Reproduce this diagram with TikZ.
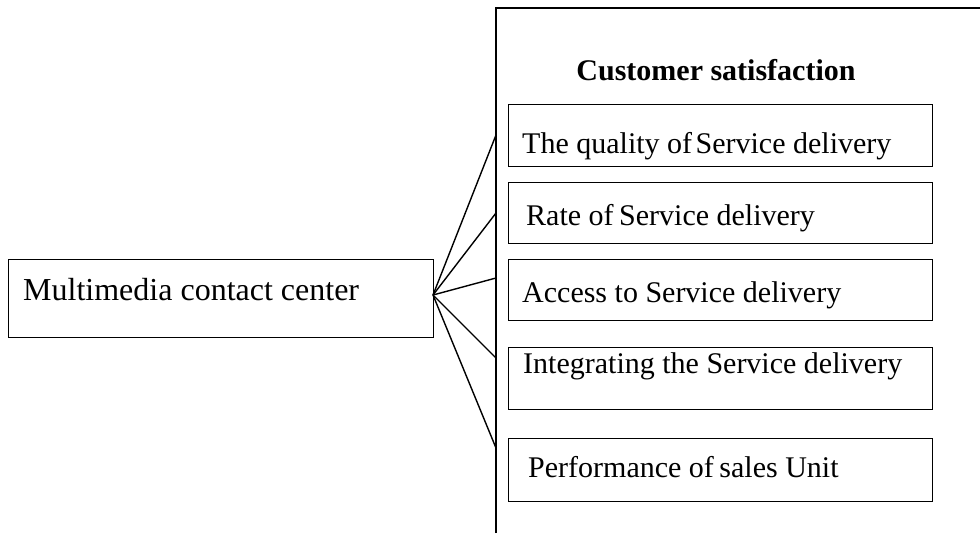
\documentclass[tikz,border=0pt]{standalone}
\usepackage{fontspec}
\setmainfont{Liberation Serif}
\begin{document}
\begin{tikzpicture}[x=1pt,y=-1pt,
  lw/.style={line width=1.4pt},
  box/.style={lw, draw, rectangle, anchor=north west, inner sep=0pt},
  lbl/.style={anchor=base west, inner sep=0pt, font=\fontsize{30}{36}\selectfont},
  ttl/.style={anchor=base, inner sep=0pt, font=\fontsize{30}{36}\selectfont\bfseries},
  conn/.style={lw}]
\useasboundingbox (0,0) rectangle (980,533);
% outer (clipped) customer satisfaction frame
\coordinate (fb) at (496,533);
\coordinate (ftl) at (496,8);
\coordinate (ftr) at (980,8);
\draw[lw] (fb) -- (ftl) -- (ftr);
\node[ttl] (title) at (716,80) {Customer satisfaction};
% left box
\node[box, minimum width=425pt, minimum height=78pt] (mm) at (8,259) {};
\node[lbl, font=\fontsize{32}{38}\selectfont] (mmt) at (23,300) {Multimedia contact center};
% right boxes
\node[box, minimum width=424pt, minimum height=62pt] (b1) at (508,104) {};
\node[lbl] (t1) at (522,153) {The quality of\hspace{-4pt} Service delivery};
\node[box, minimum width=424pt, minimum height=61pt] (b2) at (508,182) {};
\node[lbl] (t2) at (526,225) {Rate of\hspace{-2pt} Service delivery};
\node[box, minimum width=424pt, minimum height=61pt] (b3) at (508,259) {};
\node[lbl] (t3) at (522,302) {Access to Service delivery};
\node[box, minimum width=424pt, minimum height=62pt] (b4) at (508,347) {};
\node[lbl] (t4) at (523,373) {Integrating the Service delivery};
\node[box, minimum width=424pt, minimum height=63pt] (b5) at (508,438) {};
\node[lbl] (t5) at (528,477) {Performance of\hspace{-2pt} sales Unit};
% connectors
\coordinate (hub) at (433,295);
\coordinate (e1) at (496,135);
\coordinate (e2) at (496,213);
\coordinate (e3) at (496,278);
\coordinate (e4) at (496,358);
\coordinate (e5) at (496,448);
\foreach \e in {e1,e2,e3,e4,e5} \draw[conn] (hub) -- (\e);
\end{tikzpicture}
\end{document}
